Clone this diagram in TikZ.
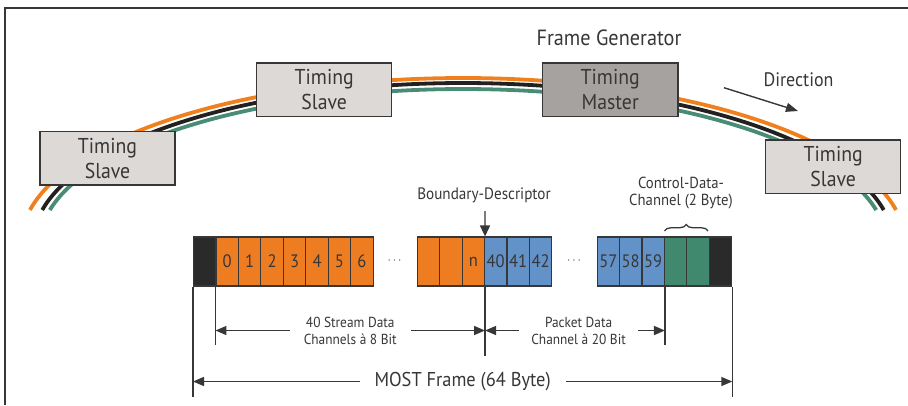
\documentclass[tikz,border=0pt]{standalone}
\usepackage{fontspec}
\setmainfont{PT Sans}[FakeStretch=0.92]
\usetikzlibrary{arrows.meta,decorations.pathreplacing,calc}
\definecolor{corange}{RGB}{238,125,34}
\definecolor{cblue}{RGB}{98,146,200}
\definecolor{cgreen}{RGB}{64,136,110}
\definecolor{cdark}{RGB}{42,42,42}
\definecolor{cline}{RGB}{55,55,55}
\definecolor{slavefill}{RGB}{221,217,215}
\definecolor{masterfill}{RGB}{166,162,160}
\definecolor{cabor}{RGB}{240,128,30}
\definecolor{cabk}{RGB}{35,32,32}
\definecolor{cabg}{RGB}{72,140,118}
\begin{document}
\begin{tikzpicture}[x=1pt,y=-1pt,
  box/.style={draw=cline, line width=1.3pt, minimum width=135pt, minimum height=53.5pt,
    inner sep=0pt, align=center, font=\fontsize{21.5}{25}\selectfont, text=cline},
  cell/.style={draw=cline, line width=1.1pt, minimum width=22.45pt, minimum height=49pt,
    inner sep=0pt, anchor=west, font=\fontsize{18}{20}\selectfont, text=cline},
  cab/.style={line width=3.8pt, line cap=butt},
  dimline/.style={draw=cline, line width=1.3pt},
  dimarr/.style={draw=cline, line width=1.4pt, {Triangle[length=11pt,width=9pt]}-{Triangle[length=11pt,width=9pt]}},
  dimlbl/.style={fill=white, inner xsep=14pt, inner ysep=1pt, align=center, text=cline},
  lbl/.style={text=cline, align=center}
]
\useasboundingbox (0,0) rectangle (908,405);
% frame border
\draw[cline, line width=1.2pt] (5,405) -- (5,8) -- (908,8);

% cables
\draw[cab, cabor] plot[domain=11.54:168.46, samples=150, smooth] ({463+442*cos(\x)},{243-165*sin(\x)});
\draw[cab, cabk] plot[domain=11.9:168.1, samples=150, smooth] ({463+430*cos(\x)},{243-160*sin(\x)});
\draw[cab, cabg] plot[domain=12.37:167.63, samples=150, smooth] ({463+423*cos(\x)},{243-154*sin(\x)});

% boxes
\node[box, fill=slavefill] (s1) at (107.5,158.3) {Timing\\Slave};
\node[box, fill=slavefill] (s2) at (324.2,89.7) {Timing\\Slave};
\node[box, fill=masterfill, minimum width=135.7pt] (m) at (610.2,89.7) {Timing\\Master};
\node[box, fill=slavefill] (s3) at (833.2,166.7) {Timing\\Slave};

\node[lbl, font=\fontsize{22}{24}\selectfont] (fg) at (609,38) {Frame Generator};
\node[lbl, font=\fontsize{19.5}{22}\selectfont] (dir) at (798.5,80) {Direction};
\coordinate (d1) at (724,87.7);
\coordinate (d2) at (798,111);
\draw[cline, line width=1.4pt, -{Triangle[length=12pt,width=9pt]}] (d1) -- (d2);

% cells group 1
\node[cell, fill=cdark] (k0) at (193,261.5) {};
\foreach \i [count=\j] in {0,...,6}
  \node[cell, fill=corange] (a\i) at ({193+22.45*\j},261.5) {\i};
% group 2
\node[cell, fill=corange] (p1) at (416.6,261.5) {};
\node[cell, fill=corange] (p2) at (439.05,261.5) {};
\node[cell, fill=corange] (pn) at (461.5,261.5) {n};
\node[cell, fill=cblue] (b40) at (483.95,261.5) {40};
\node[cell, fill=cblue] (b41) at (506.4,261.5) {41};
\node[cell, fill=cblue] (b42) at (528.85,261.5) {42};
% group 3
\node[cell, fill=cblue] (b57) at (596.5,261.5) {57};
\node[cell, fill=cblue] (b58) at (618.95,261.5) {58};
\node[cell, fill=cblue] (b59) at (641.4,261.5) {59};
\node[cell, fill=cgreen] (g1) at (663.85,261.5) {};
\node[cell, fill=cgreen] (g2) at (686.3,261.5) {};
\node[cell, fill=cdark] (k1) at (708.75,261.5) {};

\node[lbl, font=\fontsize{12}{14}\selectfont] (e1) at (394.6,261) {$\cdots$};
\node[lbl, font=\fontsize{12}{14}\selectfont] (e2) at (574,261) {$\cdots$};

% boundary descriptor
\node[lbl, font=\fontsize{16.5}{18}\selectfont] (bd) at (484,195) {Boundary-Descriptor};
\coordinate (bdstart) at (485,211);
\draw[cline, line width=1.4pt, -{Triangle[length=11pt,width=10pt]}] (bdstart) -- (pn.north east);

% control data channel
\node[lbl, font=\fontsize{16}{17}\selectfont] (cd) at (681,193) {Control-Data-\\Channel (2 Byte)};
\coordinate (br1) at (664.5,231);
\coordinate (br2) at (708,231);
\draw[cline, line width=1.3pt, decorate, decoration={brace, amplitude=6.5pt}] (br1) -- (br2);

% extension lines
\draw[dimline] (k0.south west) -- ++(0,110);
\draw[dimline] (a0.south west) -- ++(0,58);
\draw[dimline] (pn.south east) -- ++(0,69);
\draw[dimline] (b59.south east) -- ++(0,58);
\draw[dimline] (k1.south east) -- ++(0,110);

% dimension arrows
\coordinate (rowA) at (0,330.5);
\coordinate (rowB) at (0,381.5);
\draw[dimarr] (a0.south west |- rowA) -- node[dimlbl, font=\fontsize{14.5}{17}\selectfont] (t1) {40 Stream Data\\Channels à 8 Bit} (pn.south east |- rowA);
\draw[dimarr] (pn.south east |- rowA) -- node[dimlbl, pos=0.52, inner xsep=12pt, font=\fontsize{14.5}{17}\selectfont] (t2) {Packet Data\\Channel à 20 Bit} (b59.south east |- rowA);
\draw[dimarr] (k0.south west |- rowB) -- node[dimlbl, inner xsep=15pt, font=\fontsize{20}{22}\selectfont] (t3) {MOST Frame (64 Byte)} (k1.south east |- rowB);
\end{tikzpicture}
\end{document}
